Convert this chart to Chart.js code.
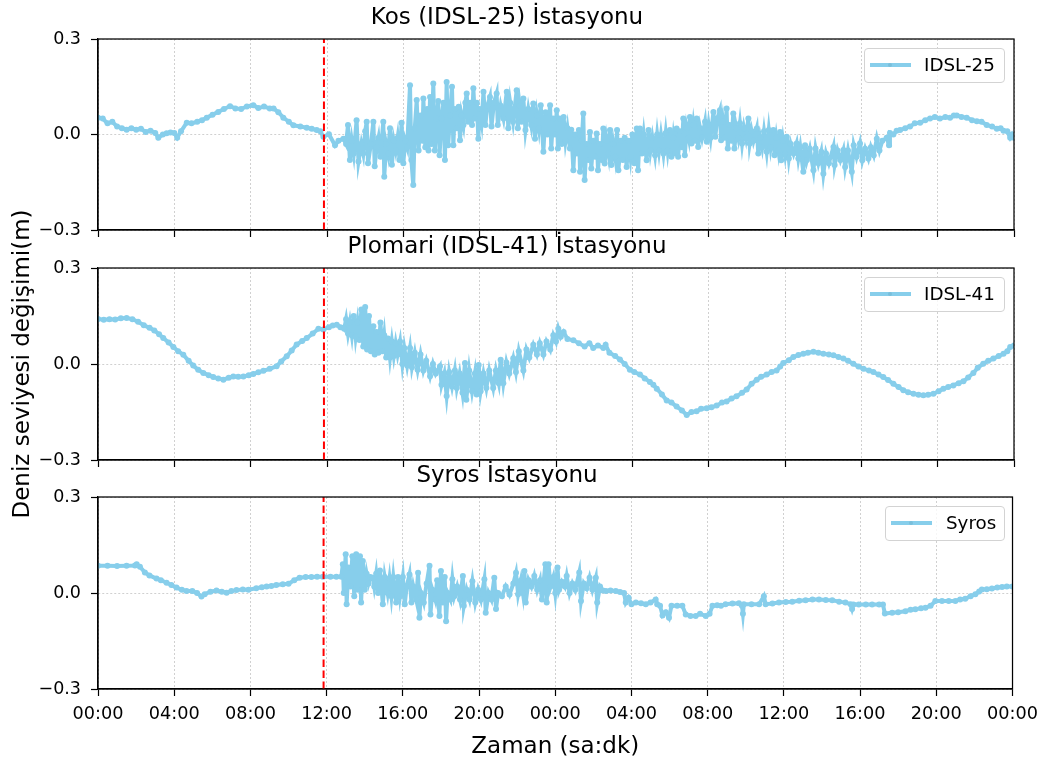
<!DOCTYPE html>
<html>
<head>
<meta charset="utf-8">
<script src="https://cdn.jsdelivr.net/npm/chart.js@4.4.1/dist/chart.umd.min.js"></script>
<style>
  html, body { margin:0; padding:0; background:#fff; overflow:hidden; }
  #wrap { position:relative; width:1046px; height:760px; overflow:hidden; background:#fff; }
  canvas { position:absolute; left:0; }
  .leg { position:absolute; height:35px; box-sizing:border-box; border:1px solid #d3d3d3; border-radius:4px;
         background:rgba(255,255,255,0.8); font-family:'DejaVu Sans', sans-serif; font-size:18.3px; color:#000; }
  .leg .ln { position:absolute; left:5px; top:14px; width:41px; height:4px; background:#87CEEB; }
  .leg .ln::after { content:''; position:absolute; left:18px; top:0; width:4px; height:4px; border-radius:50%; background:#79bfdb; }
  .leg .tx { position:absolute; top:0; line-height:31px; white-space:nowrap; }
</style>
</head>
<body>
<div id="wrap">
  <canvas id="c1" width="1046" height="340" style="top:0px"></canvas>
  <canvas id="c2" width="1046" height="441" style="top:129px"></canvas>
  <canvas id="c3" width="1046" height="310" style="top:458px"></canvas>
  <div class="leg" style="left:864px;top:48px;width:141px;"><span class="ln"></span><span class="tx" style="left:59px">IDSL-25</span></div>
  <div class="leg" style="left:864px;top:277px;width:141px;"><span class="ln"></span><span class="tx" style="left:59px">IDSL-41</span></div>
  <div class="leg" style="left:885px;top:506px;width:120px;"><span class="ln"></span><span class="tx" style="left:60px">Syros</span></div>
</div>
<script>
// ---------------- DATA (hours since first 00:00, sea level change in m) ----------------
const timeTicks  = [0, 4, 8, 12, 16, 20, 24, 28, 32, 36, 40, 44, 48];
const timeLabels = ['00:00','04:00','08:00','12:00','16:00','20:00','00:00','04:00','08:00','12:00','16:00','20:00','00:00'];
const levelTicks  = [-0.3, 0, 0.3];
const levelLabels = ['\u22120.3', '0.0', '0.3'];
const eventHour = 11.84;

const kosHours = [
  0,0.25,0.5,0.75,1,1.25,1.5,1.75,2,2.25,
  2.5,2.75,3,3.16,3.4,3.6,3.8,4,4.15,4.35,
  4.65,4.9,5.2,5.45,5.7,6,6.3,6.6,6.92,7.2,
  7.5,7.8,8.14,8.4,8.7,9,9.2,9.45,9.71,10,
  10.24,10.6,10.94,11.2,11.46,11.65,11.81,12.1,12.42,12.6,
  12.86,
  13,13.1,13.2,13.3,13.4,13.55,13.65,13.8,13.9,14,
  14.08,14.15,14.3,14.43,14.5,14.6,14.7,14.8,14.95,15,
  15.1,15.2,15.3,15.4,15.5,15.6,15.7,15.8,15.91,16,
  16.1,16.2,16.35,16.42,16.52,16.6,16.7,16.8,16.9,17,
  17.05,17.15,17.25,17.32,17.4,17.48,17.57,17.65,17.75,17.83,
  17.9,18,18.1,18.18,18.27,18.35,18.45,18.55,18.62,18.7,
  18.8,18.9,18.97,19.05,19.15,19.25,19.32,19.4,19.5,19.6,
  19.67,19.75,19.85,19.93,20,20.1,20.2,20.3,20.4,20.54,
  20.62,20.75,20.89,20.95,21.1,21.25,21.42,21.5,21.6,21.75,
  21.94,22,22.1,22.2,22.29,22.4,22.55,22.7,22.81,22.9,
  23,23.1,23.2,23.34,23.45,23.55,23.69,23.75,23.85,23.95,
  24.04,24.1,
  24.2,24.3,24.4,24.5,24.6,24.73,24.8,24.91,25,25.1,
  25.2,25.26,25.35,25.43,25.5,25.6,25.7,25.78,25.85,25.95,
  26.05,26.13,26.2,26.3,26.4,26.48,26.55,26.65,26.75,26.83,
  26.9,27,27.1,27.2,27.27,27.4,27.5,27.6,27.7,27.8,
  27.9,28,28.1,28.23,28.3,28.4,28.5,28.6,28.75,28.85,
  28.95,29.05,29.19,29.3,29.4,29.5,29.63,29.75,29.85,29.97,
  30.05,30.15,30.25,30.32,30.4,30.5,30.6,30.67,30.75,30.85,
  30.95,31.02,31.1,31.2,31.3,31.37,31.45,31.55,31.65,31.81,
  31.9,32,32.1,32.25,32.35,32.45,32.59,32.65,32.75,32.85,
  32.94,33,33.1,33.2,33.29,33.35,33.45,33.55,33.64,33.75,
  33.85,33.95,34.08,34.15,34.25,34.35,34.52,34.6,34.7,34.8,
  34.9,35.04,35.15,35.25,35.39,35.45,35.55,35.65,35.74,35.8,
  35.9,36,36.09,36.2,36.3,36.45,36.61,36.7,36.8,36.96,
  37.05,37.15,37.3,37.49,37.6,37.75,37.9,38.01,38.15,38.3,
  38.54,38.6,38.75,38.9,39.06,39.15,39.3,39.5,39.6,39.75,
  39.93,40.05,40.2,40.37,40.5,40.65,40.81,40.95,41.1,41.33,
  41.45,
  41.5,41.68,41.85,42.03,42.3,42.55,42.8,43.08,43.35,43.6,
  43.85,44.12,44.4,44.65,44.85,45,45.25,45.52,45.8,46.05,
  46.3,46.57,46.85,47.1,47.3,47.45,47.65,47.8,47.9,48
];
const kosLevel = [
  0.053,0.05,0.035,0.04,0.025,0.02,0.015,0.02,0.015,0.018,
  0.008,0.012,0.005,-0.01,0,0.004,0.006,0.005,-0.01,0.01,
  0.037,0.035,0.04,0.045,0.053,0.062,0.071,0.08,0.089,0.082,
  0.08,0.088,0.092,0.083,0.088,0.082,0.082,0.07,0.053,0.04,
  0.029,0.025,0.021,0.018,0.014,0.01,-0.007,0.001,-0.034,-0.02,
  -0.013,
  -0.03,0.03,-0.08,-0.02,-0.06,0.045,-0.085,-0.03,-0.06,0.01,
  0.04,-0.09,-0.03,0.04,-0.1,-0.04,-0.01,-0.07,0.04,-0.133,
  -0.03,-0.06,0.02,-0.095,-0.02,-0.05,-0.01,-0.08,0.037,-0.09,
  -0.02,-0.04,0.155,-0.08,-0.159,0.02,0.108,-0.05,0.06,-0.02,
  0.113,-0.04,0.08,-0.05,0.118,-0.03,0.16,-0.05,0.05,0.105,
  -0.065,0.05,0.1,-0.08,0.165,-0.034,0.06,0.15,-0.034,0.08,
  0.02,0.087,-0.018,0.06,0.03,0.1,0.129,0.04,0.1,0.03,
  0.145,0.05,0.1,-0.013,0.08,0.04,0.134,0.03,0.09,0.118,
  0.025,0.1,0.129,0.03,0.09,0.05,0.134,0.02,0.1,0.04,
  0.139,0.02,0.09,0.04,0.113,0.014,0.08,0.03,0.097,-0.013,
  0.06,0.02,0.092,-0.054,0.07,0,0.092,-0.044,0.05,0,
  0.076,-0.044,
  0.05,-0.03,0.055,-0.02,0.02,-0.044,0.015,-0.112,0,-0.06,
  0.014,-0.117,-0.02,0.066,-0.143,-0.03,-0.08,0.008,-0.107,-0.02,
  -0.07,0.003,-0.112,-0.03,-0.08,0.019,-0.091,-0.02,-0.06,0.014,
  -0.096,-0.03,-0.07,0.014,-0.112,-0.02,-0.08,-0.01,-0.102,-0.02,
  -0.07,0,-0.09,0.019,-0.112,0.019,-0.06,0,-0.081,0.014,
  -0.05,-0.01,-0.065,0,-0.05,-0.002,-0.06,0.005,-0.05,0.014,
  -0.07,-0.01,-0.06,0.019,-0.07,0.01,-0.04,0.05,-0.065,0.02,
  -0.01,0.055,-0.028,0.03,-0.02,0.05,-0.039,0.02,-0.01,0.04,
  -0.023,0.03,-0.01,0.071,-0.007,0.05,0.076,-0.018,0.04,-0.01,
  0.082,-0.044,0.03,-0.02,0.066,-0.044,0.02,-0.01,0.035,-0.028,
  0.02,-0.01,0.05,-0.028,0.01,-0.02,0.019,-0.06,-0.01,-0.04,
  0.01,-0.054,0.014,-0.04,0.014,-0.065,-0.01,-0.05,0.008,-0.081,
  -0.02,-0.06,-0.007,-0.075,-0.03,-0.06,-0.028,-0.075,-0.04,-0.117,
  -0.034,-0.08,-0.045,-0.112,-0.044,-0.09,-0.054,-0.123,-0.06,-0.09,
  -0.039,-0.096,-0.05,-0.08,-0.049,-0.102,-0.05,-0.117,-0.034,-0.07,
  -0.028,-0.081,-0.045,-0.075,-0.04,-0.065,-0.013,-0.05,-0.02,-0.01,
  -0.034,
  0.005,0,0.012,0.014,0.02,0.025,0.035,0.037,0.045,0.05,
  0.055,0.05,0.055,0.053,0.06,0.06,0.055,0.053,0.045,0.042,
  0.04,0.03,0.025,0.018,0.02,0.012,0.01,-0.01,0,-0.01
];

const plomariHours = [
  0,0.3,0.6,0.9,1.2,1.5,1.8,2.1,2.4,2.7,
  2.95,3.2,3.42,3.7,3.95,4.2,4.47,4.75,4.99,5.25,
  5.52,5.8,6.04,6.3,6.57,6.85,7.09,7.35,7.62,7.9,
  8.14,8.4,8.67,9,9.36,9.6,9.89,10.15,10.41,10.7,
  10.94,11.25,11.55,11.81,12.1,12.3,12.51,12.7,12.86,
  12.9,13,13.1,13.2,13.3,13.4,13.5,13.6,13.7,13.8,
  13.9,14,14.1,14.2,14.3,14.43,14.5,14.6,14.7,14.8,
  14.9,15,15.1,15.2,15.3,15.4,15.5,15.6,15.7,15.83,
  15.95,16.05,16.2,16.35,16.45,16.6,16.75,16.9,17.05,17.2,
  17.4,17.55,17.7,17.92,18,18.15,18.27,18.4,18.55,18.7,
  18.8,18.95,19.1,19.23,19.3,19.45,19.6,19.75,19.84,19.95,
  20.05,20.2,20.35,20.5,20.71,20.85,21,21.1,21.24,21.4,
  21.55,21.76,21.9,22.05,22.29,22.45,22.6,22.81,23,23.15,
  23.34,23.5,23.7,23.86,24,24.12,24.25,24.4,24.6,
  24.91,25.2,25.5,25.75,25.95,26.2,26.48,26.6,26.8,27.1,
  27.35,27.6,27.87,28.1,28.4,28.65,28.92,29.1,29.28,29.55,
  29.8,30.05,30.32,30.6,30.85,31.1,31.37,31.6,31.9,32.15,
  32.42,32.7,32.94,33.2,33.46,33.75,33.99,34.25,34.52,34.75,
  35.04,35.3,35.56,35.75,35.91,36.2,36.44,36.7,36.96,37.2,
  37.49,37.75,38.01,38.3,38.54,38.8,39.06,39.3,39.58,39.85,
  40.11,40.4,40.63,40.9,41.15,41.4,41.68,41.95,42.2,42.45,
  42.73,43,43.25,43.5,43.78,44.05,44.3,44.55,44.82,45.1,
  45.35,45.6,45.87,46.1,46.39,46.65,46.92,47.2,47.45,47.65,
  47.8,48
];
const plomariLevel = [
  0.141,0.138,0.14,0.139,0.143,0.144,0.14,0.132,0.121,0.113,
  0.105,0.093,0.081,0.067,0.053,0.04,0.029,0.01,-0.005,-0.018,
  -0.028,-0.035,-0.041,-0.045,-0.049,-0.043,-0.039,-0.04,-0.039,-0.035,
  -0.031,-0.026,-0.021,-0.015,-0.007,0.008,0.024,0.042,0.061,0.072,
  0.081,0.095,0.11,0.108,0.115,0.12,0.123,0.115,0.113,
  0.11,0.14,0.095,0.13,0.09,0.15,0.085,0.13,0.075,0.17,
  0.055,0.178,0.045,0.15,0.04,0.118,0.03,0.1,0.035,0.13,
  0.04,0.09,0.02,0.08,0.02,0.07,0.025,0.065,0.03,0.07,
  0,0.05,-0.005,0.05,-0.01,0.035,-0.018,0.03,-0.02,0.01,
  -0.038,0,-0.03,-0.007,-0.065,-0.03,-0.1,-0.025,-0.07,-0.02,
  -0.075,-0.03,-0.09,0.003,-0.112,-0.02,-0.085,-0.03,-0.095,-0.003,
  -0.085,-0.03,-0.075,-0.02,-0.075,-0.02,-0.06,0.013,-0.06,0.005,
  -0.03,0.018,-0.025,0.04,-0.02,0.045,0.02,0.06,0.03,0.065,
  0.03,0.07,0.045,0.09,0.07,0.11,0.085,0.1,0.078,
  0.074,0.065,0.055,0.065,0.05,0.058,0.05,0.06,0.035,0.025,
  0.014,0,-0.018,-0.025,-0.033,-0.045,-0.056,-0.065,-0.077,-0.095,
  -0.114,-0.12,-0.133,-0.145,-0.159,-0.15,-0.148,-0.14,-0.138,-0.135,
  -0.13,-0.12,-0.117,-0.108,-0.101,-0.09,-0.08,-0.062,-0.049,-0.04,
  -0.033,-0.025,-0.02,-0.008,0.003,0.012,0.022,0.028,0.032,0.035,
  0.038,0.035,0.032,0.03,0.027,0.022,0.017,0.01,0.001,-0.008,
  -0.015,-0.02,-0.025,-0.033,-0.041,-0.05,-0.062,-0.072,-0.082,-0.088,
  -0.093,-0.096,-0.098,-0.096,-0.093,-0.085,-0.077,-0.072,-0.067,-0.06,
  -0.054,-0.042,-0.028,-0.012,0.001,0.01,0.017,0.025,0.032,0.04,
  0.053,0.058
];

const syrosHours = [
  0,0.5,1,1.5,1.94,2.03,2.2,2.46,2.7,3.07,
  3.3,3.6,3.85,4.12,4.4,4.65,4.95,5.2,5.43,5.6,
  5.9,6.22,6.5,6.75,7,7.27,7.6,7.9,8.31,8.6,
  8.85,9.1,9.36,9.7,10,10.3,10.58,10.9,11.2,11.5,
  11.81,12.2,12.51,12.77,
  12.85,12.9,13,13.05,13.15,13.25,13.35,13.45,13.55,13.65,
  13.75,13.81,13.9,14,14.1,14.2,14.3,14.43,14.5,14.6,
  14.7,14.8,14.95,15.05,15.2,15.3,15.4,15.5,15.65,15.75,
  15.85,16,16.1,16.2,16.35,16.45,16.55,16.7,16.8,16.87,
  16.95,17.1,17.25,17.4,17.45,17.55,17.7,17.8,17.92,18,
  18.1,18.2,18.27,18.35,18.5,18.6,18.7,18.85,19,19.15,
  19.2,19.35,19.5,19.65,19.8,19.95,20.1,20.28,20.35,20.5,
  20.65,20.8,20.89,21,21.2,21.4,21.6,21.8,21.94,22.05,
  22.2,22.3,22.38,22.45,22.6,22.75,22.9,23.05,23.2,23.3,
  23.48,23.55,23.65,23.75,23.9,24,24.12,24.2,24.35,24.5,
  24.6,24.75,24.9,25.05,25.26,25.35,25.5,25.65,25.8,25.95,
  26.13,26.2,26.35,26.5,
  26.66,26.9,27.18,27.4,27.61,27.7,27.85,28,28.23,28.5,
  28.75,29,29.27,29.35,29.5,29.63,29.8,29.97,30.1,30.4,
  30.67,30.85,31.1,31.37,31.6,31.9,32.1,32.25,32.5,32.7,
  32.94,33.3,33.64,33.8,33.85,33.9,34.3,34.7,34.95,35.04,
  35.4,35.74,36.1,36.44,36.8,37.14,37.5,37.84,38.2,38.54,
  38.9,39.23,39.5,39.58,39.65,39.93,40.3,40.63,41,41.2,
  41.3,41.68,42,42.38,42.65,42.9,43.2,43.43,43.7,43.95,
  44.3,44.65,45,45.25,45.52,45.8,46.05,46.25,46.39,46.65,
  46.92,47.2,47.45,47.7,48
];
const syrosLevel = [
  0.085,0.085,0.084,0.085,0.086,0.09,0.082,0.064,0.055,0.045,
  0.04,0.032,0.025,0.017,0.01,0.006,0.006,0,-0.011,-0.004,
  0.004,0.008,0.004,0.001,0.006,0.009,0.011,0.01,0.015,0.018,
  0.02,0.022,0.025,0.027,0.029,0.04,0.048,0.05,0.05,0.051,
  0.051,0.051,0.051,0.051,
  0.09,0,0.121,-0.035,0.08,0.02,0.115,-0.01,0.121,0.01,
  0.115,-0.03,0.1,0.01,0.06,0.03,0.05,0.048,0.02,0.06,
  0,0.07,-0.035,0.05,0,0.045,-0.01,0.05,-0.03,0.05,
  -0.01,0.05,-0.035,0.02,0.058,-0.03,0.02,-0.02,0.063,-0.077,
  0,-0.03,0.03,0.085,-0.067,0.01,-0.02,0.04,-0.072,0.069,
  -0.03,0.05,-0.088,0,-0.02,0.043,-0.01,0.02,-0.02,0.053,
  -0.04,0.01,-0.02,0.037,-0.03,0.01,-0.02,0.043,-0.062,0,
  -0.02,0.048,-0.05,0,-0.01,0.02,-0.005,0.03,0.063,-0.004,
  0.04,0,0.069,-0.03,0.04,0.02,0.053,0.01,0.04,-0.02,
  0.09,-0.03,0.09,0.02,0.05,0,0.08,0.01,0.035,0.02,
  0.053,0,0.03,0.01,0.064,-0.025,0.03,0.015,0.048,0.01,
  0.048,-0.03,0.02,0.008,
  0.006,0.008,0.006,0.003,0,-0.03,-0.015,-0.035,-0.03,-0.032,
  -0.035,-0.03,-0.02,-0.035,-0.04,-0.07,-0.06,-0.077,-0.04,-0.04,
  -0.04,-0.067,-0.072,-0.072,-0.065,-0.072,-0.065,-0.04,-0.038,-0.04,
  -0.035,-0.033,-0.032,-0.04,-0.065,-0.035,-0.035,-0.035,-0.01,-0.035,
  -0.033,-0.03,-0.028,-0.027,-0.024,-0.023,-0.02,-0.02,-0.022,-0.023,
  -0.027,-0.03,-0.035,-0.05,-0.036,-0.036,-0.036,-0.036,-0.036,-0.036,
  -0.064,-0.062,-0.06,-0.057,-0.052,-0.051,-0.048,-0.046,-0.04,-0.025,
  -0.025,-0.025,-0.025,-0.02,-0.018,-0.01,-0.004,0.005,0.011,0.012,
  0.014,0.017,0.019,0.02,0.02
];

// ---------------- CHART ----------------
Chart.defaults.font.family = "'DejaVu Sans', sans-serif";
Chart.defaults.color = '#000';
const SKY = '#87CEEB';

const frameBox = {
  id: 'frameBox',
  afterDatasetsDraw(chart) {
    const { ctx, chartArea: a } = chart;
    ctx.save();
    ctx.strokeStyle = '#000';
    ctx.lineWidth = 1.25;
    ctx.strokeRect(a.left, a.top, a.right - a.left, a.bottom - a.top);
    ctx.restore();
  }
};

function gridOpts() {
  return { color: '#c4c4c4', lineWidth: 0.8, drawTicks: true, tickLength: 7, tickColor: '#000', tickWidth: 1.2, tickBorderDash: [] };
}
function borderOpts() {
  return { display: true, color: '#000', width: 1.25, dash: [2, 2] };
}

function makeChart(id, title, label, hours, levels, showX, showYTitle, xHeight, padTop, padBottom) {
  const points = hours.map((h, i) => ({ x: h, y: levels[i] }));
  return new Chart(document.getElementById(id), {
    type: 'line',
    data: {
      datasets: [
        {
          label: 'event',
          data: [{ x: eventHour, y: levelTicks[0] }, { x: eventHour, y: levelTicks[2] }],
          borderColor: '#ff0000', borderWidth: 2, borderDash: [7.5, 3.5],
          pointRadius: 0, pointHoverRadius: 0, order: 0
        },
        {
          label: label,
          data: points,
          borderColor: SKY, borderWidth: 4, tension: 0,
          pointRadius: 3, pointHoverRadius: 0, pointBorderWidth: 0,
          pointBackgroundColor: SKY, order: 1
        }
      ]
    },
    options: {
      responsive: false, animation: false, devicePixelRatio: 1, events: [],
      layout: { padding: { left: 0, right: 32, top: padTop, bottom: padBottom } },
      plugins: {
        legend: { display: false },
        tooltip: { enabled: false },
        title: { display: true, text: title, color: '#000',
                 font: { size: 23, weight: 'normal', lineHeight: 1.2 },
                 padding: { top: 4, bottom: 7.4 } }
      },
      scales: {
        x: {
          type: 'linear', min: 0, max: 48,
          afterBuildTicks: s => { s.ticks = timeTicks.map(v => ({ value: v })); },
          afterFit: s => { s.height = xHeight; },
          ticks: { display: showX, autoSkip: false, maxRotation: 0, minRotation: 0, padding: 8,
                   font: { size: 17.7, lineHeight: 1.2 }, color: '#000',
                   callback: v => timeLabels[timeTicks.indexOf(v)] },
          grid: gridOpts(), border: borderOpts(),
          title: { display: showX, text: 'Zaman (sa:dk)', color: '#000',
                   font: { size: 23, lineHeight: 1.2 }, padding: { top: 0, bottom: 7 } }
        },
        y: {
          min: levelTicks[0], max: levelTicks[2],
          afterBuildTicks: s => { s.ticks = levelTicks.map(v => ({ value: v })); },
          afterFit: s => { s.width = 98; },
          ticks: { padding: 10, font: { size: 17.5, lineHeight: 1 }, color: '#000',
                   callback: v => levelLabels[levelTicks.indexOf(v)] },
          grid: gridOpts(), border: borderOpts(),
          title: { display: showYTitle, text: 'Deniz seviyesi değişimi(m)', color: '#000',
                   font: { size: 23, lineHeight: 1.2 }, padding: { top: 9, bottom: 0 } }
        }
      }
    },
    plugins: [frameBox]
  });
}

makeChart('c1', 'Kos (IDSL-25) İstasyonu', 'IDSL-25', kosHours, kosLevel, false, false, 10, 0, 100);
makeChart('c2', 'Plomari (IDSL-41) İstasyonu', 'IDSL-41', plomariHours, plomariLevel, false, true, 10, 100, 100);
makeChart('c3', 'Syros İstasyonu', 'Syros', syrosHours, syrosLevel, true, false, 79, 0, 0);
</script>
</body>
</html>
